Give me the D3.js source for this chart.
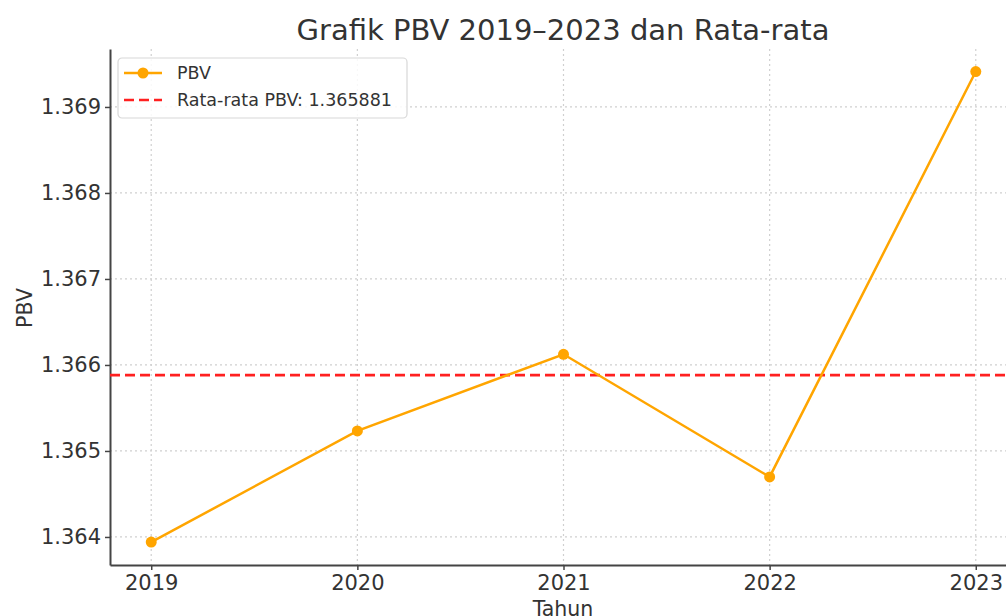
<!DOCTYPE html>
<html>
<head>
<meta charset="utf-8">
<script src="https://cdn.jsdelivr.net/npm/d3@7"></script>
<style>
  body { margin: 0; background: #fff; }
  text { font-family: "DejaVu Sans", sans-serif; }
</style>
</head>
<body>
<svg id="drawing_region"></svg>
<script>
const years = [2019, 2020, 2021, 2022, 2023];
const pbv = [1.36394, 1.365233, 1.366124, 1.364698, 1.369412];
const yTicks = [1.364, 1.365, 1.366, 1.367, 1.368, 1.369];
const meanPbv = d3.mean(pbv);

const config = {
    width: 1006,
    height: 616,
    margin: { top: 49, right: -11, bottom: 51, left: 110 }
};

const svg = d3.select('#drawing_region')
    .attr('width', config.width)
    .attr('height', config.height);

const inner_width = config.width - config.margin.left - config.margin.right;
const inner_height = config.height - config.margin.top - config.margin.bottom;

const chart = svg.append('g')
    .attr('transform', `translate(${config.margin.left}, ${config.margin.top})`);

const xscale = d3.scaleLinear()
    .domain([2018.8, 2023.2])
    .range([0, inner_width]);

const yscale = d3.scaleLinear()
    .domain([1.363674, 1.369674])
    .range([inner_height, 0]);

// grid
chart.append('g').selectAll('line').data(years).join('line')
    .attr('x1', d => xscale(d)).attr('x2', d => xscale(d))
    .attr('y1', 0).attr('y2', inner_height)
    .attr('stroke', '#d0d0d0').attr('stroke-width', 1.2)
    .attr('stroke-dasharray', '2,3');

chart.append('g').selectAll('line').data(yTicks).join('line')
    .attr('x1', 0).attr('x2', inner_width)
    .attr('y1', d => yscale(d)).attr('y2', d => yscale(d))
    .attr('stroke', '#d0d0d0').attr('stroke-width', 1.2)
    .attr('stroke-dasharray', '2,3');

// axes
const xaxis = d3.axisBottom(xscale)
    .tickValues(years)
    .tickFormat(d3.format('d'))
    .tickSize(5)
    .tickPadding(5)
    .tickSizeOuter(0);

const yaxis = d3.axisLeft(yscale)
    .tickValues(yTicks)
    .tickFormat(d3.format('.3f'))
    .tickSize(5)
    .tickPadding(4)
    .tickSizeOuter(0);

const xaxis_group = chart.append('g')
    .attr('transform', `translate(0, ${inner_height})`)
    .call(xaxis);

const yaxis_group = chart.append('g')
    .call(yaxis);

[xaxis_group, yaxis_group].forEach(g => {
    g.select('.domain').attr('stroke', '#444').attr('stroke-width', 2);
    g.selectAll('.tick line').attr('stroke', '#444').attr('stroke-width', 1.5);
    g.selectAll('.tick text')
        .attr('fill', '#333')
        .style('font-size', '21px')
        .style('font-family', '"DejaVu Sans", sans-serif');
});

// mean line
chart.append('line')
    .attr('x1', 0).attr('x2', inner_width)
    .attr('y1', yscale(meanPbv)).attr('y2', yscale(meanPbv))
    .attr('stroke', '#ff2020').attr('stroke-width', 2.6)
    .attr('stroke-dasharray', '10,5');

// data line
const line = d3.line()
    .x((d, i) => xscale(years[i]))
    .y(d => yscale(d));

chart.append('path')
    .datum(pbv)
    .attr('fill', 'none')
    .attr('stroke', '#ffa500')
    .attr('stroke-width', 2.5)
    .attr('d', line);

chart.selectAll('circle').data(pbv).join('circle')
    .attr('cx', (d, i) => xscale(years[i]))
    .attr('cy', d => yscale(d))
    .attr('r', 5.5)
    .attr('fill', '#ffa500');

// title and labels
svg.append('text')
    .attr('x', 563).attr('y', 40)
    .attr('text-anchor', 'middle')
    .attr('fill', '#333')
    .style('font-size', '29px')
    .text('Grafik PBV 2019–2023 dan Rata-rata');

svg.append('text')
    .attr('x', 563).attr('y', 616)
    .attr('text-anchor', 'middle')
    .attr('fill', '#333')
    .style('font-size', '20.5px')
    .text('Tahun');

svg.append('text')
    .attr('transform', 'translate(32, 308) rotate(-90)')
    .attr('text-anchor', 'middle')
    .attr('fill', '#333')
    .style('font-size', '20.5px')
    .text('PBV');

// legend
const legend = svg.append('g').attr('transform', 'translate(118, 58)');
legend.append('rect')
    .attr('width', 289).attr('height', 60)
    .attr('rx', 4)
    .attr('fill', 'rgba(255,255,255,0.85)')
    .attr('stroke', '#d8d8d8').attr('stroke-width', 1.2);

legend.append('line')
    .attr('x1', 6).attr('x2', 44).attr('y1', 15).attr('y2', 15)
    .attr('stroke', '#ffa500').attr('stroke-width', 2.5);
legend.append('circle')
    .attr('cx', 25).attr('cy', 15).attr('r', 5.5)
    .attr('fill', '#ffa500');
legend.append('text')
    .attr('x', 59).attr('y', 21)
    .attr('fill', '#333')
    .style('font-size', '17.5px')
    .text('PBV');

legend.append('line')
    .attr('x1', 6).attr('x2', 44).attr('y1', 42).attr('y2', 42)
    .attr('stroke', '#ff2020').attr('stroke-width', 2.6)
    .attr('stroke-dasharray', '10,5');
legend.append('text')
    .attr('x', 59).attr('y', 48)
    .attr('fill', '#333')
    .style('font-size', '17.5px')
    .text('Rata-rata PBV: ' + meanPbv.toFixed(6));
</script>
</body>
</html>
